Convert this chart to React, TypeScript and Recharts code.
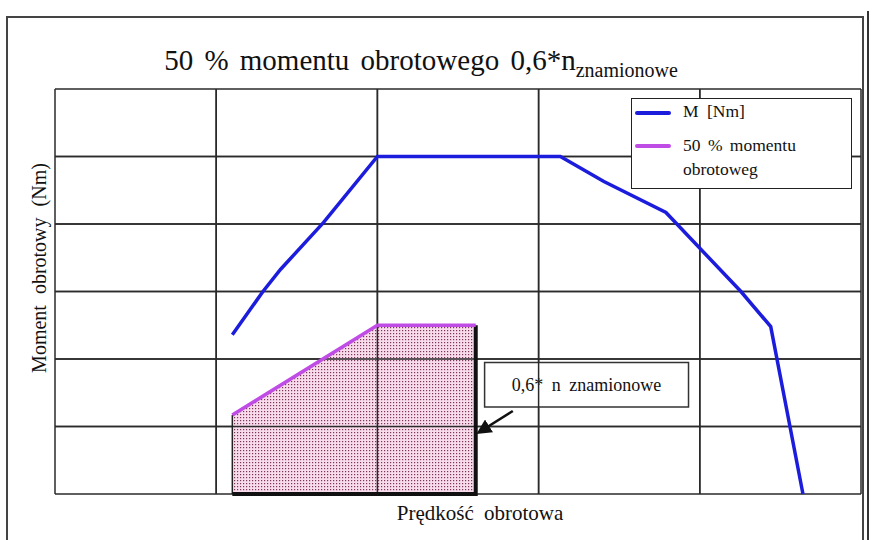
import * as React from "react";
import {
  ComposedChart,
  CartesianGrid,
  XAxis,
  YAxis,
  Line,
  Area,
  ReferenceArea,
  ReferenceLine,
} from "recharts";

// speed axis 0..100 (5 grid columns), torque axis 0..60 (6 grid rows)
const xTicks = [0, 20, 40, 60, 80, 100];
const yTicks = [0, 10, 20, 30, 40, 50, 60];

// M [Nm] curve
const speedM = [22.0, 25.8, 28.0, 33.3, 40.0, 62.7, 68.1, 75.8, 85.1, 88.8, 92.8];
const torqueM = [23.6, 30.0, 33.3, 40.2, 50.0, 50.0, 46.3, 41.7, 30.0, 24.8, 0];

// 50 % momentu obrotowego, cut at 0,6*n
const speedHalf = [22.0, 40.0, 52.2];
const torqueHalf = [11.7, 25.0, 25.0];

const nLimit = 52.2;

const serif = "'Liberation Serif', 'DejaVu Serif', serif";

const mData = speedM.map((x, i) => ({ x, m: torqueM[i] }));
const halfData = speedHalf.map((x, i) => ({ x, h: torqueHalf[i] }));
const edgeData = [
  { x: nLimit, e: torqueHalf[torqueHalf.length - 1] },
  { x: nLimit, e: 0 },
  { x: speedHalf[0], e: 0 },
];
const leftEdge = [
  { x: speedHalf[0], e: 0 },
  { x: speedHalf[0], e: torqueHalf[0] },
];

const LegendBox = () => (
  <div
    style={{
      position: "absolute",
      left: 631,
      top: 98,
      width: 221,
      height: 91,
      background: "#fff",
      border: "1.5px solid #222",
      fontFamily: serif,
      fontSize: 17.5,
      color: "#111",
      boxSizing: "border-box",
    }}
  >
    <div style={{ position: "absolute", left: 3, top: 12, width: 36, height: 4, background: "#1c1cdc", borderRadius: 2 }} />
    <div style={{ position: "absolute", left: 51, top: 2, wordSpacing: 4 }}>M [Nm]</div>
    <div style={{ position: "absolute", left: 3, top: 45, width: 36, height: 4, background: "#c04ce6", borderRadius: 2 }} />
    <div style={{ position: "absolute", left: 51, top: 34, lineHeight: "24px", wordSpacing: 3 }}>
      50 % momentu
      <br />
      obrotoweg
    </div>
  </div>
);

const Arrow = (p: any) => (
  <line
    x1={p.x1}
    y1={p.y1}
    x2={p.x2}
    y2={p.y2}
    stroke="#111"
    strokeWidth={2.5}
    markerEnd="url(#arrowHead)"
  />
);

const BoxLabel = (p: any) => {
  const vb = p.viewBox || {};
  return (
    <text
      x={vb.x + vb.width / 2}
      y={vb.y + vb.height / 2 + 6}
      textAnchor="middle"
      fontFamily={serif}
      fontSize={18}
      fill="#111"
      style={{ wordSpacing: 4 }}
    >
      0,6* n znamionowe
    </text>
  );
};

export default function App() {
  return (
    <div style={{ position: "absolute", left: 0, top: 0, width: 880, height: 540, background: "#fff", overflow: "hidden" }}>
      {/* outer frame */}
      <div style={{ position: "absolute", left: 6, top: 16, width: 854, height: 540, border: "2px solid #444", borderBottom: "none" }} />
      <div style={{ position: "absolute", left: 867, top: 11, width: 2, height: 540, background: "#333" }} />

      <div
        style={{
          position: "absolute",
          left: 0,
          width: 842,
          top: 44,
          textAlign: "center",
          fontFamily: serif,
          fontSize: 29,
          color: "#111",
          wordSpacing: 4,
        }}
      >
        50 % momentu obrotowego 0,6*n
        <sub style={{ fontSize: 20, wordSpacing: 0 }}>znamionowe</sub>
      </div>

      <div
        style={{
          position: "absolute",
          left: 39,
          top: 268,
          transform: "translate(-50%, -50%) rotate(-90deg)",
          whiteSpace: "nowrap",
          fontFamily: serif,
          fontSize: 20,
          color: "#111",
          wordSpacing: 6,
        }}
      >
        Moment obrotowy (Nm)
      </div>

      <div
        style={{
          position: "absolute",
          left: 480,
          top: 513,
          transform: "translate(-50%, -50%)",
          whiteSpace: "nowrap",
          fontFamily: serif,
          fontSize: 21,
          color: "#111",
          wordSpacing: 5,
        }}
      >
        Prędkość obrotowa
      </div>

      <div style={{ position: "absolute", left: 0, top: 0 }}>
        <ComposedChart width={880} height={540} margin={{ top: 89, right: 19, bottom: 46, left: 55 }}>
          <defs>
            <pattern id="dots" width="3" height="3" patternUnits="userSpaceOnUse">
              <rect width="3" height="3" fill="#f8dcec" />
              <rect width="1.2" height="1.2" fill="#7c3556" />
            </pattern>
            <marker id="arrowHead" markerWidth="6" markerHeight="6" refX="4" refY="3" orient="auto" markerUnits="strokeWidth">
              <path d="M0,0 L6,3 L0,6 z" fill="#111" />
            </marker>
          </defs>
          <CartesianGrid stroke="#2a2a2a" strokeWidth={1.5} />
          <XAxis dataKey="x" type="number" domain={[0, 100]} ticks={xTicks} hide />
          <YAxis type="number" domain={[0, 60]} ticks={yTicks} hide />
          <Area
            data={halfData}
            dataKey="h"
            type="linear"
            stroke="none"
            fill="url(#dots)"
            fillOpacity={1}
            isAnimationActive={false}
          />
          {xTicks.slice(1, 5).map((t) => (
            <ReferenceLine key={`v${t}`} x={t} stroke="#2a2a2a" strokeWidth={1.5} />
          ))}
          {yTicks.slice(1, 6).map((t) => (
            <ReferenceLine key={`h${t}`} y={t} stroke="#2a2a2a" strokeWidth={1.5} />
          ))}
          <Line
            data={leftEdge}
            dataKey="e"
            type="linear"
            stroke="#222"
            strokeWidth={1.5}
            dot={false}
            isAnimationActive={false}
          />
          <Line
            data={edgeData}
            dataKey="e"
            type="linear"
            stroke="#111"
            strokeWidth={4}
            dot={false}
            isAnimationActive={false}
          />
          <Line
            data={halfData}
            dataKey="h"
            name="50 % momentu obrotoweg"
            type="linear"
            stroke="#c04ce6"
            strokeWidth={3.5}
            dot={false}
            isAnimationActive={false}
          />
          <Line
            data={mData}
            dataKey="m"
            name="M [Nm]"
            type="linear"
            stroke="#1c1cdc"
            strokeWidth={3.5}
            dot={false}
            isAnimationActive={false}
          />
          <ReferenceArea
            x1={53.3}
            x2={78.6}
            y1={12.9}
            y2={19.5}
            fill="#fff"
            fillOpacity={1}
            stroke="#333"
            strokeWidth={1.5}
            label={<BoxLabel />}
          />
          <ReferenceLine
            segment={[
              { x: 56.8, y: 12.3 },
              { x: 52.8, y: 9.3 },
            ]}
            shape={<Arrow />}
          />
        </ComposedChart>
      </div>
      <LegendBox />
    </div>
  );
}
